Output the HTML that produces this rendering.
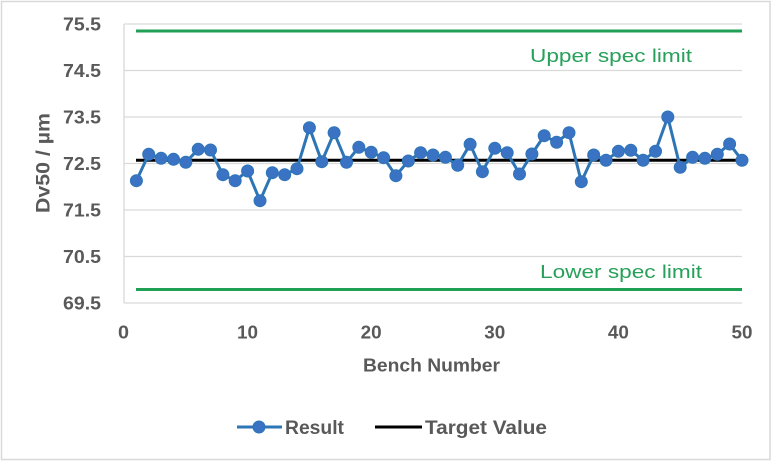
<!DOCTYPE html>
<html><head><meta charset="utf-8"><style>
html,body{margin:0;padding:0;background:#fff;}
svg{display:block;}
text{font-family:"Liberation Sans",sans-serif;font-weight:bold;fill:#595959;}
</style></head><body>
<svg width="780" height="463" viewBox="0 0 780 463" xmlns="http://www.w3.org/2000/svg">
<rect x="0" y="0" width="780" height="463" fill="#fff"/>
<rect x="1.5" y="1.5" width="768.5" height="458" fill="none" stroke="#d9d9d9" stroke-width="1.5"/>
<!-- gridlines -->
<g stroke="#d9d9d9" stroke-width="1.3">
<line x1="124" y1="24" x2="742" y2="24"/>
<line x1="124" y1="70.5" x2="742" y2="70.5"/>
<line x1="124" y1="117" x2="742" y2="117"/>
<line x1="124" y1="163.5" x2="742" y2="163.5"/>
<line x1="124" y1="210" x2="742" y2="210"/>
<line x1="124" y1="256.5" x2="742" y2="256.5"/>
<line x1="124" y1="303" x2="742" y2="303"/>
<line x1="124" y1="24" x2="124" y2="303"/>
</g>
<!-- y tick labels -->
<g font-size="18">
<text x="63" y="30.5" textLength="38" lengthAdjust="spacingAndGlyphs">75.5</text>
<text x="63" y="77" textLength="38" lengthAdjust="spacingAndGlyphs">74.5</text>
<text x="63" y="123.5" textLength="38" lengthAdjust="spacingAndGlyphs">73.5</text>
<text x="63" y="170" textLength="38" lengthAdjust="spacingAndGlyphs">72.5</text>
<text x="63" y="216.5" textLength="38" lengthAdjust="spacingAndGlyphs">71.5</text>
<text x="63" y="263" textLength="38" lengthAdjust="spacingAndGlyphs">70.5</text>
<text x="63" y="309.5" textLength="38" lengthAdjust="spacingAndGlyphs">69.5</text>
</g>
<!-- x tick labels -->
<g font-size="18">
<text x="118" y="338.5" textLength="11" lengthAdjust="spacingAndGlyphs">0</text>
<text x="237" y="338.5" textLength="21" lengthAdjust="spacingAndGlyphs">10</text>
<text x="360.7" y="338.5" textLength="21" lengthAdjust="spacingAndGlyphs">20</text>
<text x="484.3" y="338.5" textLength="21" lengthAdjust="spacingAndGlyphs">30</text>
<text x="607.9" y="338.5" textLength="21" lengthAdjust="spacingAndGlyphs">40</text>
<text x="731.5" y="338.5" textLength="21" lengthAdjust="spacingAndGlyphs">50</text>
</g>
<text x="363" y="371.5" font-size="18" textLength="137" lengthAdjust="spacingAndGlyphs">Bench Number</text>
<text transform="translate(49.5,213) rotate(-90)" font-size="19" textLength="100" lengthAdjust="spacingAndGlyphs">Dv50 / µm</text>
<!-- spec lines -->
<line x1="136" y1="31" x2="742" y2="31" stroke="#1fa055" stroke-width="3"/>
<line x1="136" y1="289.5" x2="742" y2="289.5" stroke="#1fa055" stroke-width="3"/>
<text x="530" y="62" font-size="18" style="font-weight:normal;fill:#27a05a" textLength="162" lengthAdjust="spacingAndGlyphs">Upper spec limit</text>
<text x="540" y="278" font-size="18" style="font-weight:normal;fill:#27a05a" textLength="162" lengthAdjust="spacingAndGlyphs">Lower spec limit</text>
<!-- target -->
<line x1="136" y1="160.3" x2="742" y2="160.3" stroke="#000" stroke-width="3"/>
<!-- result series -->
<polyline fill="none" stroke="#2e75b6" stroke-width="3" stroke-linejoin="round" points="
136.4,180.7 148.7,154.3 161.1,158.3 173.5,159.3 185.8,162.3 198.2,149.3 210.5,150 222.9,174.7 235.2,180.7 247.6,171
260,200.7 272.3,172.7 284.7,174.7 297,168.7 309.4,127.7 321.8,161.7 334.1,132.7 346.5,162.3 358.8,147.3 371.2,152.3
383.6,157.7 395.9,175.7 408.3,161 420.6,152.7 433,155 445.4,157.3 457.7,165.3 470.1,144.3 482.4,171.7 494.8,148.3
507.2,152.7 519.5,174 531.9,154 544.2,135.7 556.6,142.3 569,132.7 581.3,181.7 593.7,155 606,160.3 618.4,151.3
630.8,150.3 643.1,160.3 655.5,151.3 667.8,117 680.2,167.3 692.6,157.3 704.9,158.3 717.3,154.3 729.6,144 742,160.3"/>
<g fill="#3b73c4" stroke="#2e75b6" stroke-width="1">
<circle cx="136.4" cy="180.7" r="6"/><circle cx="148.7" cy="154.3" r="6"/><circle cx="161.1" cy="158.3" r="6"/><circle cx="173.5" cy="159.3" r="6"/><circle cx="185.8" cy="162.3" r="6"/>
<circle cx="198.2" cy="149.3" r="6"/><circle cx="210.5" cy="150" r="6"/><circle cx="222.9" cy="174.7" r="6"/><circle cx="235.2" cy="180.7" r="6"/><circle cx="247.6" cy="171" r="6"/>
<circle cx="260" cy="200.7" r="6"/><circle cx="272.3" cy="172.7" r="6"/><circle cx="284.7" cy="174.7" r="6"/><circle cx="297" cy="168.7" r="6"/><circle cx="309.4" cy="127.7" r="6"/>
<circle cx="321.8" cy="161.7" r="6"/><circle cx="334.1" cy="132.7" r="6"/><circle cx="346.5" cy="162.3" r="6"/><circle cx="358.8" cy="147.3" r="6"/><circle cx="371.2" cy="152.3" r="6"/>
<circle cx="383.6" cy="157.7" r="6"/><circle cx="395.9" cy="175.7" r="6"/><circle cx="408.3" cy="161" r="6"/><circle cx="420.6" cy="152.7" r="6"/><circle cx="433" cy="155" r="6"/>
<circle cx="445.4" cy="157.3" r="6"/><circle cx="457.7" cy="165.3" r="6"/><circle cx="470.1" cy="144.3" r="6"/><circle cx="482.4" cy="171.7" r="6"/><circle cx="494.8" cy="148.3" r="6"/>
<circle cx="507.2" cy="152.7" r="6"/><circle cx="519.5" cy="174" r="6"/><circle cx="531.9" cy="154" r="6"/><circle cx="544.2" cy="135.7" r="6"/><circle cx="556.6" cy="142.3" r="6"/>
<circle cx="569" cy="132.7" r="6"/><circle cx="581.3" cy="181.7" r="6"/><circle cx="593.7" cy="155" r="6"/><circle cx="606" cy="160.3" r="6"/><circle cx="618.4" cy="151.3" r="6"/>
<circle cx="630.8" cy="150.3" r="6"/><circle cx="643.1" cy="160.3" r="6"/><circle cx="655.5" cy="151.3" r="6"/><circle cx="667.8" cy="117" r="6"/><circle cx="680.2" cy="167.3" r="6"/>
<circle cx="692.6" cy="157.3" r="6"/><circle cx="704.9" cy="158.3" r="6"/><circle cx="717.3" cy="154.3" r="6"/><circle cx="729.6" cy="144" r="6"/><circle cx="742" cy="160.3" r="6"/>
</g>
<!-- legend -->
<line x1="237" y1="427" x2="282" y2="427" stroke="#2e75b6" stroke-width="3"/>
<circle cx="259" cy="427" r="6" fill="#3b73c4" stroke="#2e75b6" stroke-width="1"/>
<text x="285" y="434" font-size="19" textLength="59" lengthAdjust="spacingAndGlyphs">Result</text>
<line x1="375" y1="427" x2="422" y2="427" stroke="#000" stroke-width="3"/>
<text x="425" y="434" font-size="19" textLength="122" lengthAdjust="spacingAndGlyphs">Target Value</text>
</svg>
</body></html>
